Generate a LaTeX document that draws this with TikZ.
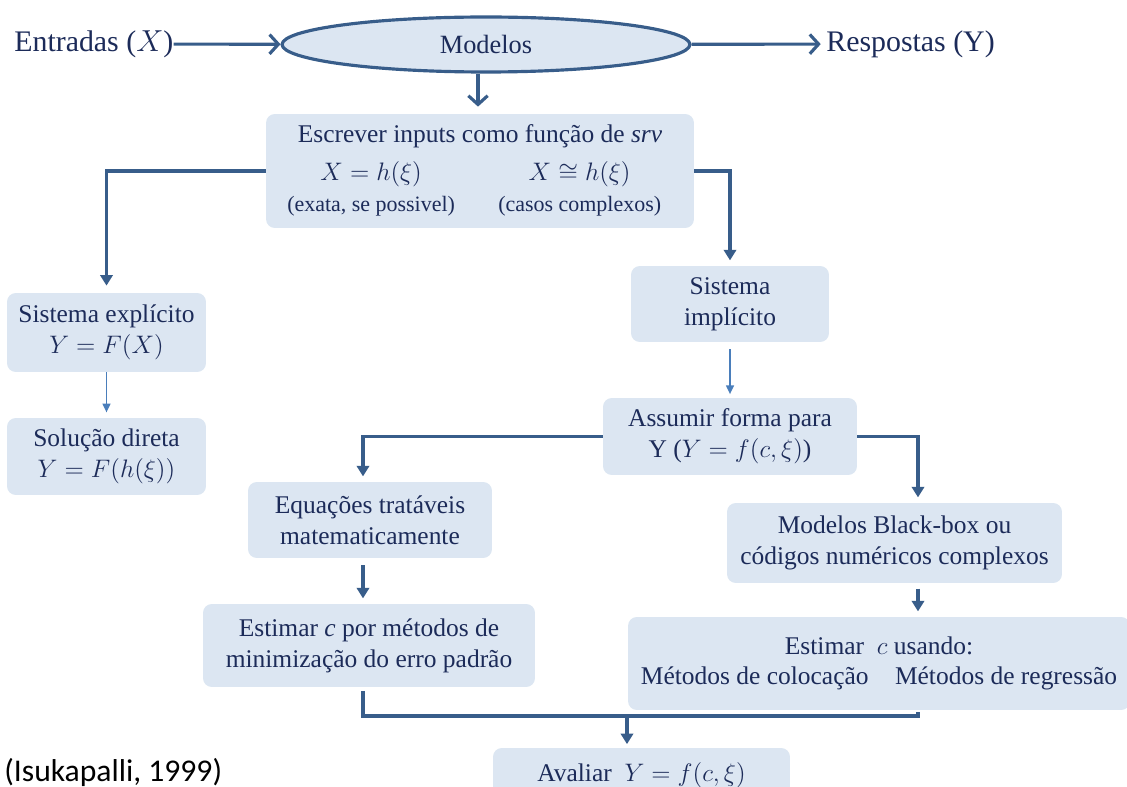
\documentclass[tikz,border=0pt]{standalone}
\usepackage{fontspec}
\setmainfont{Liberation Serif}
\newfontfamily\citefont{Carlito}
\usetikzlibrary{arrows.meta,shapes.geometric}

\definecolor{caixafill}{HTML}{DCE6F2}
\definecolor{linha}{HTML}{385D8A}
\definecolor{linhaclara}{HTML}{4A7EBB}
\definecolor{texto}{HTML}{1C2B59}

\tikzset{
  caixa/.style={rounded corners=5pt, fill=caixafill, text=texto, align=center,
    font=\fontsize{14.5}{17.5}\selectfont, inner sep=0pt},
  rotulo/.style={text=texto, font=\fontsize{17}{20}\selectfont, inner sep=0pt, anchor=west},
  ligacao/.style={draw=linha, line width=1.8pt},
  seta/.style={ligacao, -{Triangle[length=6pt,width=7pt]}},
  setafina/.style={draw=linhaclara, line width=0.9pt, -{Triangle[length=5pt,width=4.5pt]}},
  setaaberta/.style={ligacao, -{Straight Barb[length=5pt,width=11pt]}},
}

\begin{document}
\begin{tikzpicture}[x=0.02cm, y=-0.02cm]
    \clip (0,0) rectangle (1127,787);

    \node[rotulo] (entradas) at (14,44) {Entradas ($X$)};
    \node[ellipse, draw=linha, line width=1.8pt, fill=caixafill, text=texto,
      minimum width=8.16cm, minimum height=1.1cm, font=\fontsize{15}{18}\selectfont] (modelos) at (486,44.5) {Modelos};
    \node[rotulo] (respostas) at (826,44) {Respostas (Y)};

    \node[caixa, minimum width=8.56cm, minimum height=2.28cm] (escrever) at (480,171)
      {\begin{tabular}{@{}c@{\hspace{18pt}}c@{}}
        \multicolumn{2}{c}{Escrever inputs como função de \textit{srv}}\\[4pt]
        $X = h(\xi)$ & $X \cong h(\xi)$\\
        {\fontsize{12.5}{15}\selectfont (exata, se possivel)} & {\fontsize{12.5}{15}\selectfont (casos complexos)}
      \end{tabular}};

    \node[caixa, minimum width=3.98cm, minimum height=1.58cm] (explicito) at (106.5,332.5) {Sistema explícito\\$Y = F(X)$};
    \node[caixa, minimum width=3.98cm, minimum height=1.54cm] (direta) at (106.5,456.5) {Solução direta\\$Y = F(h(\xi))$};
    \node[caixa, minimum width=3.96cm, minimum height=1.52cm] (implicito) at (730,304) {Sistema\\implícito};
    \node[caixa, minimum width=5.08cm, minimum height=1.54cm] (assumir) at (730,436.5) {Assumir forma para\\Y ($Y = f(c,\xi)$)};
    \node[caixa, minimum width=4.88cm, minimum height=1.52cm] (equacoes) at (370,520) {Equações tratáveis\\matematicamente};
    \node[caixa, minimum width=6.64cm, minimum height=1.66cm] (estimarA) at (369,645.5) {Estimar \textit{c} por métodos de\\minimização do erro padrão};
    \node[caixa, minimum width=6.7cm, minimum height=1.6cm] (blackbox) at (894.5,543) {Modelos Black-box ou\\códigos numéricos complexos};
    \node[caixa, minimum width=10.04cm, minimum height=1.86cm] (estimarB) at (879,663.5) {Estimar\ \ $c$ usando:\\Métodos de colocação\hspace{15pt}Métodos de regressão};
    \node[caixa, minimum width=5.94cm, minimum height=1.08cm] (avaliar) at (641.5,775) {Avaliar\ \ $Y = f(c,\xi)$};

    \node[anchor=west, inner sep=0pt, font=\citefont\fontsize{18}{20}\selectfont] (fonte) at (4,772) {(Isukapalli, 1999)};

    \coordinate (colM) at (478,0);
    \coordinate (colE) at (363,0);
    \coordinate (colD) at (918,0);
    \coordinate (juncao) at (627,716);

    \draw[setaaberta] (entradas) -- (modelos);
    \draw[setaaberta, shorten >=3pt] (modelos) -- (respostas);
    \draw[setaaberta, shorten >=4pt] (colM |- modelos.south) -- (colM |- escrever.north);

    \draw[seta, shorten >=4pt] (escrever.west) -| (explicito.north);
    \draw[seta, shorten >=3pt] (escrever.east) -| (implicito.north);
    \draw[setafina, shorten >=3pt] (explicito) -- (direta);
    \draw[setafina, shorten <=4pt, shorten >=2pt] (implicito) -- (assumir);

    \draw[seta, shorten >=3pt] (assumir.west) -| (colE |- equacoes.north);
    \draw[seta, shorten >=3pt] (assumir.east) -| (colD |- blackbox.north);
    \draw[seta, shorten <=4pt, shorten >=3pt] (colE |- equacoes.south) -- (colE |- estimarA.north);
    \draw[seta, shorten <=3pt, shorten >=3pt] (colD |- blackbox.south) -- (colD |- estimarB.north);
    \draw[ligacao, shorten <=2pt, shorten >=1pt] (colE |- estimarA.south) |- (juncao) -| (colD |- estimarB.south);
    \draw[seta, shorten >=2pt] (juncao) -- (juncao |- avaliar.north);
\end{tikzpicture}
\end{document}
